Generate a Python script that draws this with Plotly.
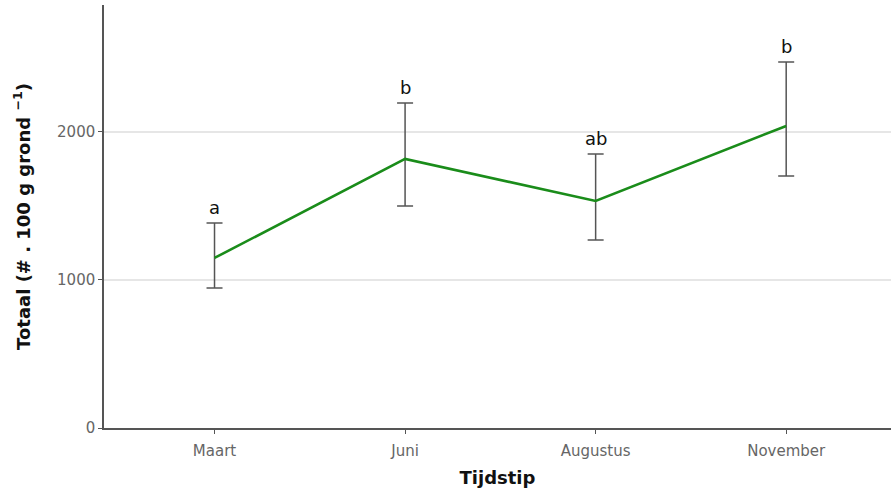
import plotly.graph_objects as go

categories = ["Maart", "Juni", "Augustus", "November"]
means = [1149, 1818, 1534, 2041]
upper = [1385, 2196, 1851, 2473]
lower = [946, 1500, 1270, 1703]
letters = ["a", "b", "ab", "b"]

err_plus = [u - m for u, m in zip(upper, means)]
err_minus = [m - l for m, l in zip(means, lower)]

FONT = "DejaVu Sans, Arial"

fig = go.Figure()
fig.add_trace(go.Scatter(
    x=categories, y=means, mode="lines",
    line=dict(color="#1a8c1a", width=2.6),
    error_y=dict(type="data", symmetric=False, array=err_plus, arrayminus=err_minus,
                 color="#555555", thickness=1.5, width=8),
    showlegend=False,
))

for c, u, t in zip(categories, upper, letters):
    fig.add_annotation(x=c, y=u, text=t, showarrow=False, yanchor="bottom", yshift=3,
                       font=dict(family=FONT, size=18, color="#111111"))

fig.update_layout(
    width=891, height=490,
    margin=dict(l=104, r=0, t=5, b=62),
    plot_bgcolor="white", paper_bgcolor="white",
    font=dict(family=FONT),
    xaxis=dict(
        range=[-0.58, 3.55], showgrid=False, showline=True, linecolor="#555555", linewidth=1.5,
        ticks="outside", ticklen=4, tickcolor="#555555", ticklabelstandoff=4,
        tickfont=dict(family=FONT, size=15, color="#666666"),
        title=dict(text="<b>Tijdstip</b>", font=dict(family=FONT, size=18, color="#111111"), standoff=13),
    ),
    yaxis=dict(
        range=[0, 2858], tickvals=[0, 1000, 2000], showgrid=True, gridcolor="#e6e6e6", gridwidth=1.5,
        zeroline=False, showline=True, linecolor="#555555", linewidth=1.5,
        ticks="outside", ticklen=4, tickcolor="#555555",
        tickfont=dict(family=FONT, size=15, color="#666666"),
        title=dict(text="<b>Totaal (# . 100 g grond <sup>−1</sup>)</b>",
                   font=dict(family=FONT, size=18, color="#111111"), standoff=22),
    ),
)

fig.write_html("out.html")
